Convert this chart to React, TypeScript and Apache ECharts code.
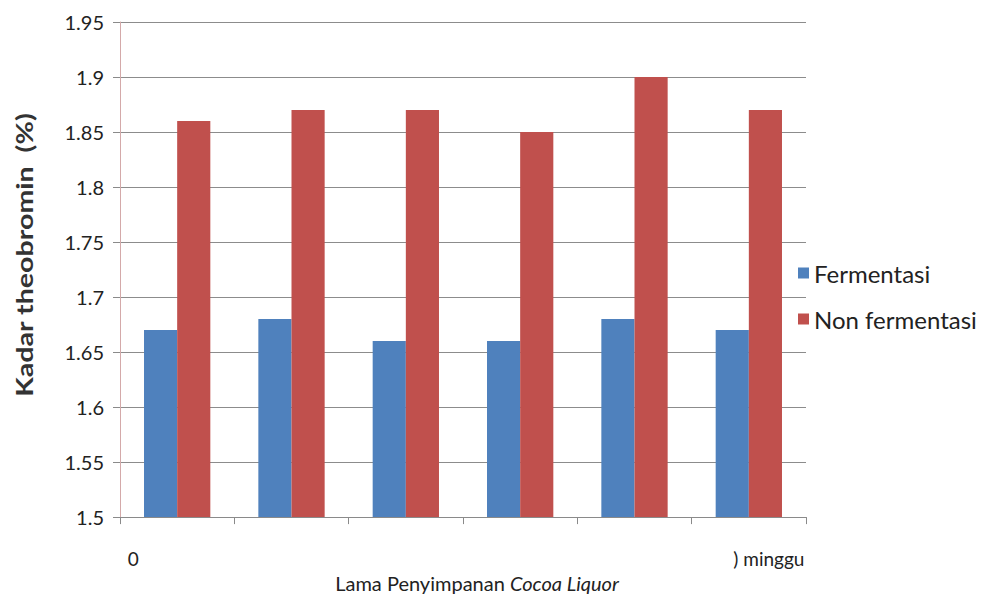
import React, { useEffect, useRef } from "react";
import * as echarts from "echarts";

// Storage weeks of cocoa liquor (only the first and last label survive on the axis)
const categories = ["0", "", "", "", "", ") minggu"];
const fermentasi = [1.67, 1.68, 1.66, 1.66, 1.68, 1.67];
const nonFermentasi = [1.86, 1.87, 1.87, 1.85, 1.9, 1.87];
const seriesNames = ["Fermentasi", "Non fermentasi"];
const yTitle = "Kadar theobromin  (%)";

const FONT = "Lato, 'Open Sans', sans-serif";

export default function App() {
  const ref = useRef<HTMLDivElement>(null);

  useEffect(() => {
    if (!ref.current) return;
    const chart = echarts.init(ref.current, undefined, { renderer: "svg" });
    chart.setOption({
      animation: false,
      backgroundColor: "#ffffff",
      textStyle: { fontFamily: FONT },
      grid: { left: 120, top: 22, right: 185, bottom: 80, containLabel: false },
      // vertical axis title, drawn a little stretched along its length
      graphic: [
        {
          type: "text",
          x: 24,
          y: 255,
          rotation: Math.PI / 2,
          scaleX: 1.3,
          style: {
            text: yTitle,
            fontSize: 22,
            fontWeight: "bold",
            fontFamily: FONT,
            fill: "#333",
            align: "center",
            verticalAlign: "middle",
          },
        },
      ],
      legend: {
        orient: "vertical",
        left: 793,
        top: 256,
        itemWidth: 11,
        itemHeight: 11,
        itemGap: 22,
        icon: "rect",
        textStyle: { fontSize: 24, color: "#222", fontFamily: FONT },
        data: seriesNames,
      },
      xAxis: {
        type: "category",
        data: categories,
        name: "{n|Lama Penyimpanan }{i|Cocoa Liquor}",
        nameLocation: "middle",
        nameGap: 54,
        nameTextStyle: {
          padding: [0, 0, 0, 28],
          rich: {
            n: { fontSize: 20, color: "#222", fontFamily: FONT },
            i: { fontSize: 20, color: "#222", fontFamily: FONT, fontStyle: "italic" },
          },
        },
        axisLine: { lineStyle: { color: "#8a8a8a", width: 1 } },
        axisTick: { show: true, length: 7, lineStyle: { color: "#8a8a8a" }, alignWithLabel: false },
        axisLabel: {
          interval: 0,
          margin: 32,
          formatter: (v: string, i: number) =>
            i === 0 ? "{a|" + v + "}" : i === categories.length - 1 ? "{b|" + v + "}" : v,
          rich: {
            a: { fontSize: 19, color: "#222", fontFamily: FONT, padding: [0, 88, 0, 0] },
            b: { fontSize: 19, color: "#222", fontFamily: FONT, padding: [0, 0, 0, 40] },
          },
        },
      },
      yAxis: {
        type: "value",
        min: 1.5,
        max: 1.95,
        interval: 0.05,
        axisLine: { show: true, lineStyle: { color: "#d4a9a9", width: 1 } },
        axisTick: { show: true, length: 7, lineStyle: { color: "#8a8a8a" } },
        axisLabel: {
          fontSize: 20,
          color: "#222",
          margin: 16,
          fontFamily: FONT,
          formatter: (v: number) => String(parseFloat(v.toFixed(2))),
        },
        splitLine: { show: true, lineStyle: { color: "#8c8c8c", width: 1 } },
      },
      series: [
        {
          name: seriesNames[0],
          type: "bar",
          data: fermentasi,
          barGap: "0%",
          barCategoryGap: "42%",
          itemStyle: { color: "#4f81bd" },
        },
        {
          name: seriesNames[1],
          type: "bar",
          data: nonFermentasi,
          barGap: "0%",
          barCategoryGap: "42%",
          itemStyle: { color: "#c0504d" },
        },
      ],
    });
    return () => chart.dispose();
  }, []);

  return (
    <div
      ref={ref}
      style={{ position: "fixed", left: 0, top: 0, width: 991, height: 598 }}
    />
  );
}
